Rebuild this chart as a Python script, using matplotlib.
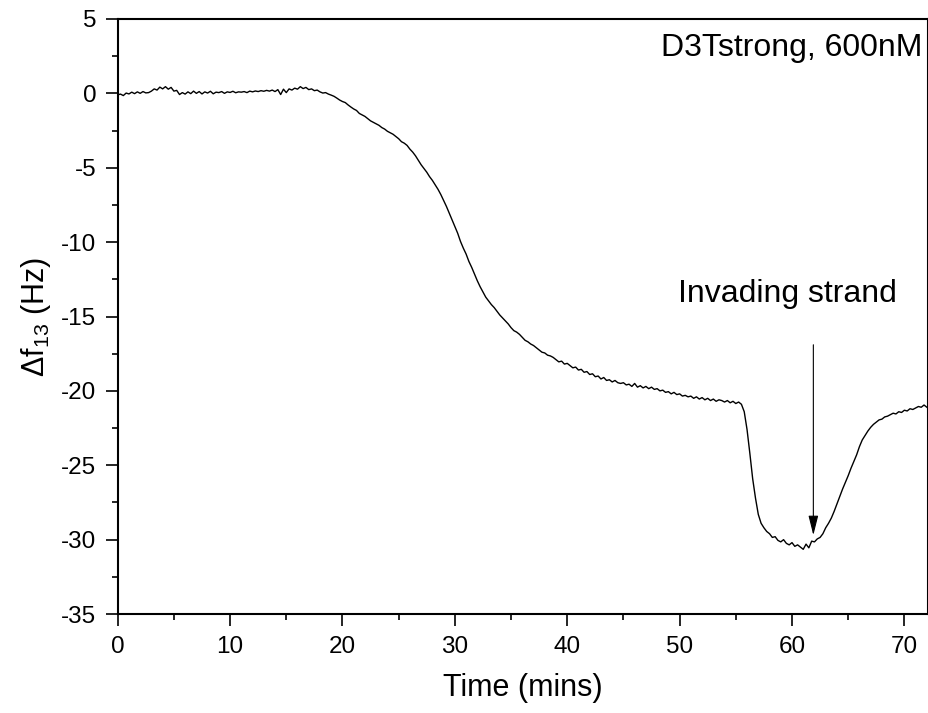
import numpy as np
import matplotlib
matplotlib.use("Agg")
import matplotlib.pyplot as plt
from matplotlib.ticker import MultipleLocator

plt.rcParams['font.family'] = ['Liberation Sans', 'DejaVu Sans']
plt.rcParams['mathtext.fontset'] = 'custom'
plt.rcParams['mathtext.rm'] = 'Liberation Sans'
plt.rcParams['mathtext.it'] = 'Liberation Sans:italic'
plt.rcParams['mathtext.default'] = 'regular'
plt.rcParams['axes.unicode_minus'] = False

# time in minutes, one reading every 15 s
time_min = np.arange(0, 72.01, 0.25)

# frequency shift (Hz)
delta_f = [
    -0.10, -0.05, -0.15, 0.02, -0.04, 0.08, -0.02, 0.10, 0.00, 0.12, 0.03, 0.05,
    0.15, 0.30, 0.22, 0.42, 0.30, 0.45, 0.28, 0.40, 0.15, 0.20, -0.08, 0.05,
    -0.05, 0.10, -0.02, 0.15, 0.00, 0.12, -0.04, 0.10, 0.02, 0.14, -0.03, 0.08,
    0.05, 0.12, 0.00, 0.10, 0.06, 0.14, 0.04, 0.10, 0.08, 0.12, 0.05, 0.15,
    0.10, 0.16, 0.12, 0.18, 0.14, 0.20, 0.15, 0.22, 0.12, 0.25, -0.08, 0.28,
    0.05, 0.30, 0.22, 0.35, 0.28, 0.45, 0.32, 0.40, 0.25, 0.30, 0.18, 0.22,
    0.10, 0.02, 0.05, -0.05, -0.12, -0.20, -0.32, -0.45, -0.55, -0.62, -0.78, -0.92,
    -1.05, -1.15, -1.35, -1.45, -1.55, -1.70, -1.85, -1.95, -2.05, -2.15, -2.30, -2.40,
    -2.55, -2.65, -2.75, -2.90, -3.05, -3.25, -3.35, -3.50, -3.75, -3.95, -4.20, -4.50,
    -4.80, -5.05, -5.30, -5.60, -5.85, -6.15, -6.45, -6.80, -7.20, -7.60, -8.05, -8.50,
    -8.95, -9.40, -9.95, -10.40, -10.80, -11.30, -11.70, -12.15, -12.60, -13.00, -13.35, -13.70,
    -13.95, -14.20, -14.40, -14.65, -14.90, -15.10, -15.30, -15.50, -15.75, -15.95, -16.05, -16.20,
    -16.40, -16.60, -16.70, -16.85, -16.95, -17.10, -17.25, -17.40, -17.45, -17.60, -17.65, -17.75,
    -17.90, -18.05, -18.00, -18.20, -18.15, -18.30, -18.45, -18.40, -18.60, -18.55, -18.75, -18.70,
    -18.90, -18.85, -19.05, -19.00, -19.20, -19.10, -19.30, -19.25, -19.40, -19.30, -19.45, -19.50,
    -19.45, -19.60, -19.55, -19.70, -19.50, -19.75, -19.65, -19.80, -19.70, -19.85, -19.75, -19.90,
    -19.85, -20.00, -19.95, -20.10, -20.05, -20.20, -20.10, -20.25, -20.20, -20.35, -20.30, -20.40,
    -20.35, -20.50, -20.40, -20.55, -20.45, -20.60, -20.50, -20.65, -20.55, -20.70, -20.60, -20.65,
    -20.75, -20.65, -20.80, -20.70, -20.85, -20.75, -20.90, -21.40, -22.60, -24.20, -25.90, -27.20,
    -28.30, -28.90, -29.20, -29.45, -29.60, -29.85, -29.80, -30.05, -30.15, -30.00, -30.25, -30.35,
    -30.20, -30.45, -30.35, -30.50, -30.65, -30.30, -30.55, -30.10, -30.15, -29.95, -29.85, -29.60,
    -29.20, -28.90, -28.55, -28.10, -27.60, -27.10, -26.60, -26.15, -25.70, -25.20, -24.75, -24.30,
    -23.75, -23.30, -23.00, -22.70, -22.45, -22.25, -22.10, -21.95, -21.90, -21.75, -21.70, -21.60,
    -21.50, -21.55, -21.40, -21.45, -21.30, -21.35, -21.20, -21.25, -21.15, -21.05, -21.10, -20.95,
    -21.10,
]

sample_label = "D3Tstrong, 600nM"
arrow_label = "Invading strand"
arrow_x = 61.9
arrow_top = -16.9
arrow_tip = -29.7

fig = plt.figure(figsize=(9.29, 7.13), dpi=100)
ax = fig.add_axes([0.1267, 0.1388, 0.8722, 0.8346])

ax.plot(time_min, delta_f, color='black', lw=1.0)

ax.annotate('', xy=(arrow_x, arrow_tip), xytext=(arrow_x, arrow_top),
            arrowprops=dict(arrowstyle='-|>,head_length=1.0,head_width=0.25',
                            mutation_scale=12, color='black', lw=0.8,
                            shrinkA=0, shrinkB=0))
ax.text(59.6, -14.0, arrow_label, ha='center', va='baseline', fontsize=23)
ax.text(71.6, 2.5, sample_label, ha='right', va='baseline', fontsize=23)

ax.set_xlim(0, 72.1)
ax.set_ylim(-35, 5)
ax.xaxis.set_major_locator(MultipleLocator(10))
ax.xaxis.set_minor_locator(MultipleLocator(5))
ax.yaxis.set_major_locator(MultipleLocator(5))
ax.yaxis.set_minor_locator(MultipleLocator(2.5))
ax.tick_params(which='major', direction='out', length=8.5, width=1.2, labelsize=17.5, pad=7)
ax.tick_params(which='minor', direction='out', length=4.3, width=1.2)
for s in ax.spines.values():
    s.set_linewidth(1.5)

ax.set_xlabel('Time (mins)', fontsize=22, labelpad=11)
ax.set_ylabel(r'$\Delta$f$_{13}$ (Hz)', fontsize=22, labelpad=6)

fig.savefig('out.png', dpi=100)
